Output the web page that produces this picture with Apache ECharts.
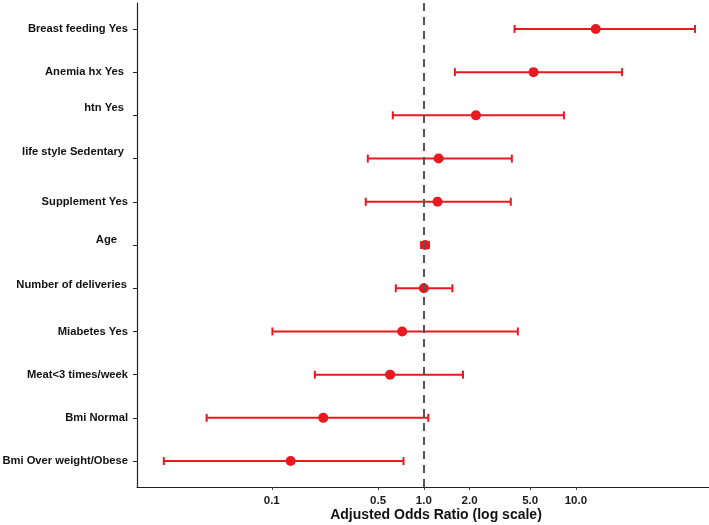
<!DOCTYPE html>
<html>
<head>
<meta charset="utf-8">
<script src="https://cdn.jsdelivr.net/npm/echarts@6/dist/echarts.min.js"></script>
<style>
html, body { margin: 0; padding: 0; background: #fff; }
#forest_chart { width: 709px; height: 525px; }
</style>
</head>
<body>
<div id="forest_chart"></div>
<script>
var categories = ['Breast feeding Yes', 'Anemia hx Yes', 'htn Yes', 'life style Sedentary', 'Supplement Yes', 'Age',
    'Number of deliveries', 'Miabetes Yes', 'Meat<3 times/week', 'Bmi Normal', 'Bmi Over weight/Obese'];
var oddsRatio = [13.5, 5.26, 2.2, 1.25, 1.23, 1.02, 1.0, 0.72, 0.6, 0.218, 0.133];
var lowerCI = [3.95, 1.6, 0.625, 0.428, 0.415, 0.96, 0.654, 0.101, 0.192, 0.0373, 0.0195];
var upperCI = [60.7, 20.1, 8.34, 3.79, 3.73, 1.08, 1.54, 4.15, 1.81, 1.07, 0.735];
var xTicks = [0.1, 0.5, 1.0, 2.0, 5.0, 10.0];

// a few labels in the original are nudged up / left of their tick
var labelNudge = {1: 'n1', 2: 'n2', 3: 'n2', 5: 'n5', 6: 'n6'};

var red = '#e8191f';
var font = 'Liberation Sans, Arial, sans-serif';
var rowIdx = categories.map(function (c, i) { return i; });

var barData = categories.map(function (c, i) {
    return [lowerCI[i], upperCI[i], i];
});
var pointData = categories.map(function (c, i) {
    return [oddsRatio[i], i];
});

var option = {
    animation: false,
    backgroundColor: '#fff',
    grid: {left: 137, right: 0, top: 3, bottom: 38, containLabel: false, outerBoundsMode: 'none'},
    xAxis: {
        type: 'log',
        min: 0.013,
        max: 75,
        name: 'Adjusted Odds Ratio (log scale)',
        nameLocation: 'middle',
        nameGap: 21,
        nameMoveOverlap: false,
        nameTextStyle: {fontFamily: font, fontWeight: 'bold', fontSize: 14, color: '#111', padding: [0, 0, 0, 26]},
        axisLine: {show: true, onZero: false, lineStyle: {color: '#222', width: 1.2}},
        axisTick: {show: true, customValues: xTicks, length: 3, lineStyle: {color: '#444'}},
        axisLabel: {
            customValues: xTicks,
            margin: 8,
            fontFamily: font, fontWeight: 'bold', fontSize: 11.5, color: '#1a1a1a',
            formatter: function (v) { return Number(v).toFixed(1); }
        },
        splitLine: {show: false},
        minorTick: {show: false},
        minorSplitLine: {show: false}
    },
    yAxis: {
        type: 'value',
        inverse: true,
        min: -0.6,
        max: 10.6,
        axisLine: {show: true, onZero: false, lineStyle: {color: '#222', width: 1.2}},
        axisTick: {show: true, customValues: rowIdx, length: 4, lineStyle: {color: '#222'}},
        axisLabel: {
            customValues: rowIdx,
            margin: 9,
            fontFamily: font, fontWeight: 'bold', fontSize: 11.2, color: '#111',
            formatter: function (v) {
                var i = Math.round(v);
                var txt = categories[i];
                return labelNudge[i] ? '{' + labelNudge[i] + '|' + txt + '}' : txt;
            },
            rich: {
                n1: {padding: [0, 4, 0, 0]},
                n2: {padding: [0, 4, 14, 0]},
                n5: {padding: [0, 11, 10, 0]},
                n6: {padding: [0, 1, 6, 0]}
            }
        },
        splitLine: {show: false}
    },
    series: [
        {
            type: 'custom',
            z: 2,
            data: barData,
            encode: {x: [0, 1], y: 2},
            renderItem: function (params, api) {
                var a = api.coord([api.value(0), api.value(2)]);
                var b = api.coord([api.value(1), api.value(2)]);
                var cap = 4;
                var st = {stroke: red, lineWidth: 2};
                return {
                    type: 'group',
                    children: [
                        {type: 'line', shape: {x1: a[0], y1: a[1], x2: b[0], y2: b[1]}, style: st},
                        {type: 'line', shape: {x1: a[0], y1: a[1] - cap, x2: a[0], y2: a[1] + cap}, style: st},
                        {type: 'line', shape: {x1: b[0], y1: b[1] - cap, x2: b[0], y2: b[1] + cap}, style: st}
                    ]
                };
            },
            markLine: {
                silent: true,
                symbol: ['none', 'none'],
                label: {show: false},
                lineStyle: {color: '#555', width: 2, type: [8, 6]},
                data: [{xAxis: 1}]
            }
        },
        {
            type: 'scatter',
            z: 3,
            symbol: 'circle',
            symbolSize: 10,
            itemStyle: {color: red, opacity: 1},
            data: pointData
        }
    ]
};

var chart = echarts.init(document.getElementById('forest_chart'));
chart.setOption(option);
</script>
</body>
</html>
